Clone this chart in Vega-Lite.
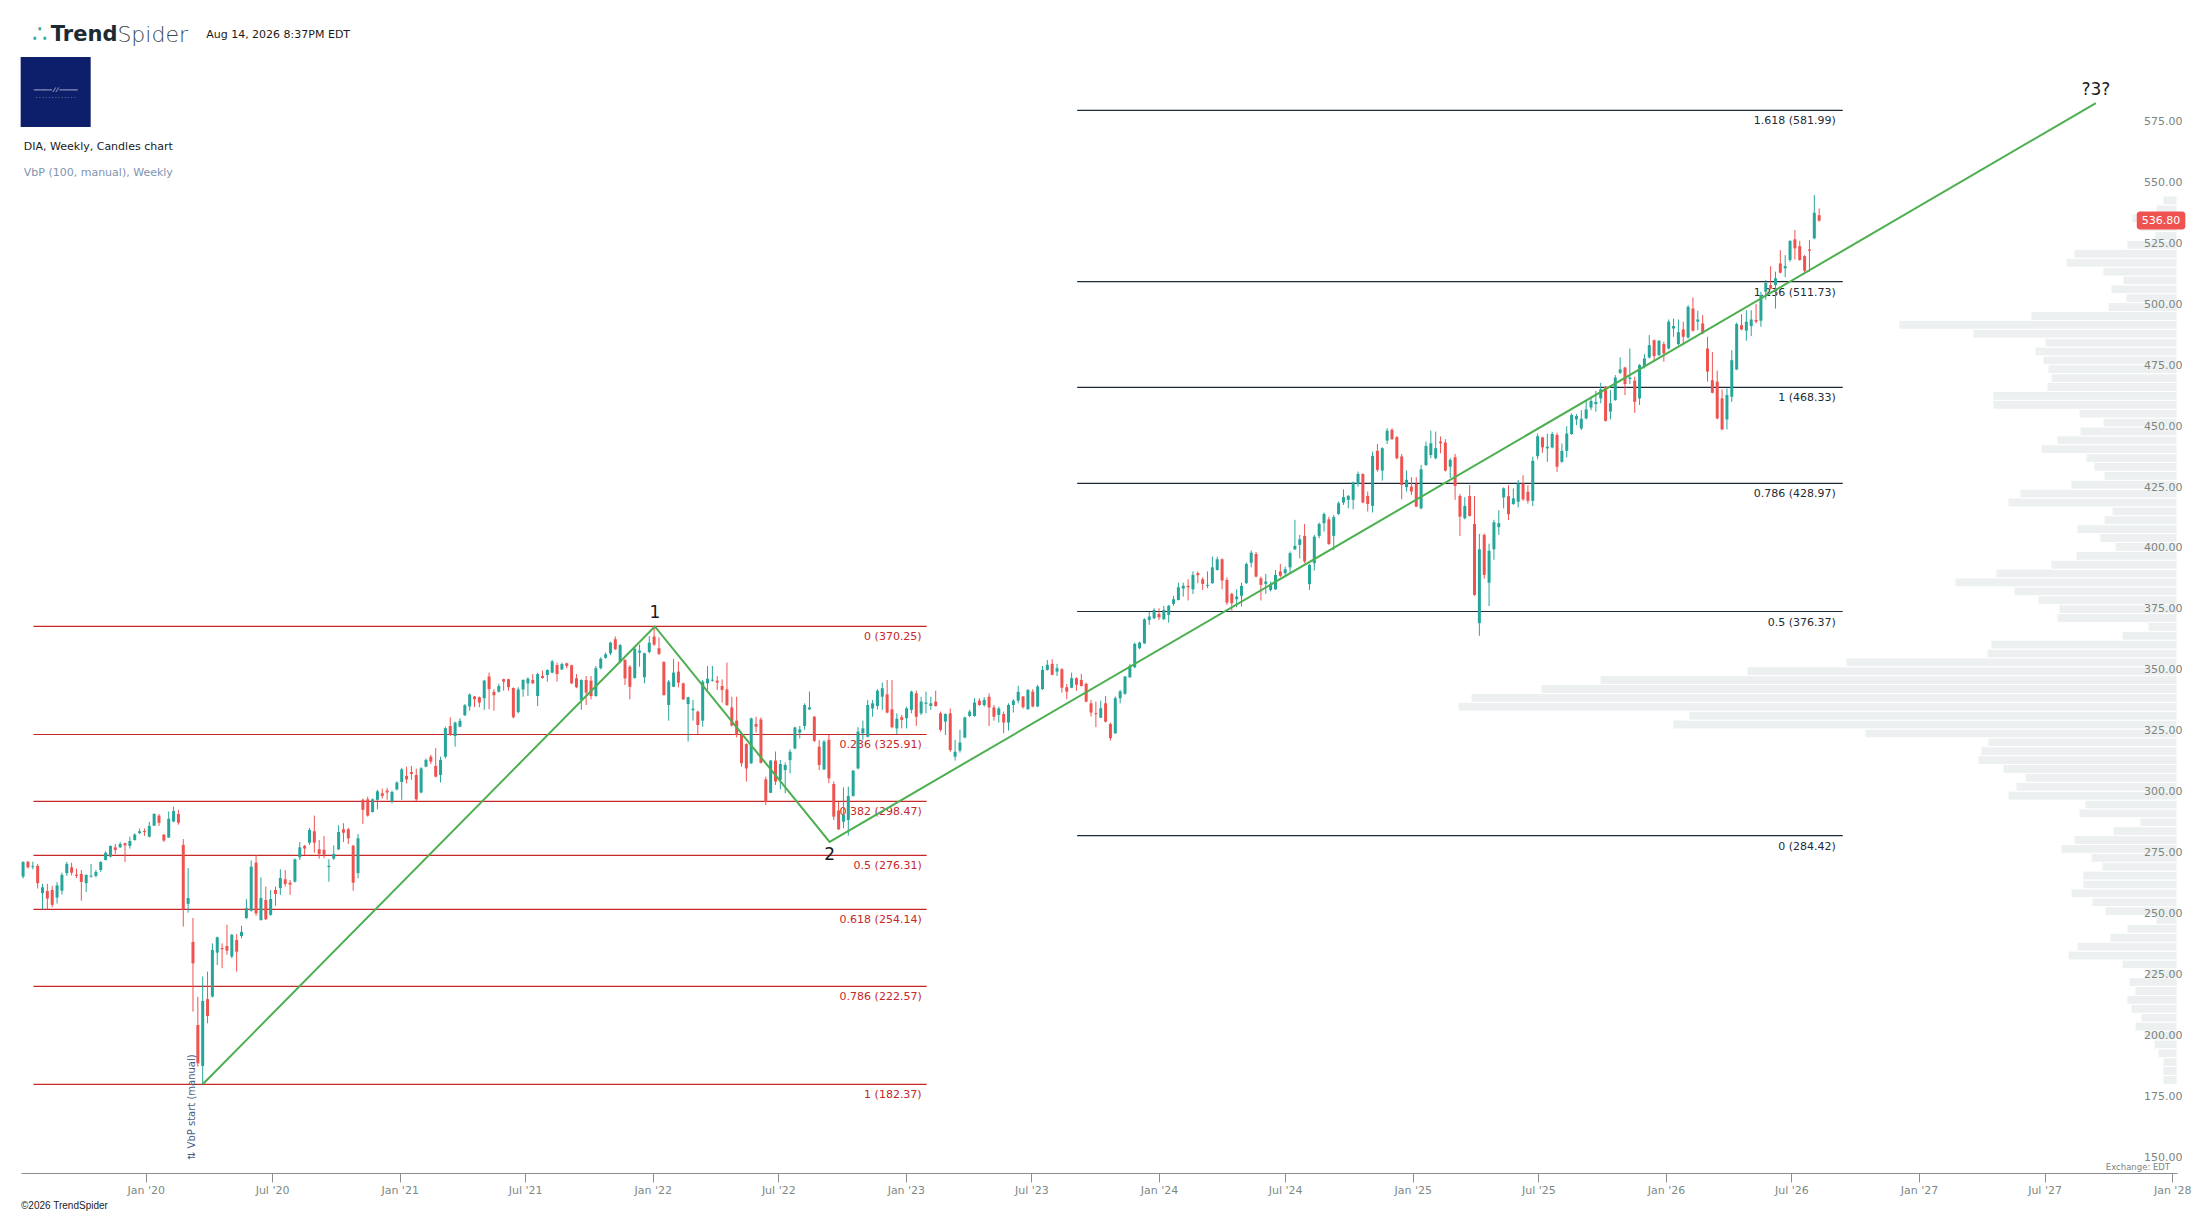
{
  "$schema": "https://vega.github.io/schema/vega-lite/v6.json",
  "width": 2156,
  "height": 1173,
  "autosize": {"type": "none"},
  "padding": {"left": 21, "top": 0, "right": 30, "bottom": 46},
  "background": "white",
  "title": {
    "text": "©2026 TrendSpider",
    "orient": "bottom",
    "anchor": "start",
    "frame": "group",
    "font": "Liberation Sans",
    "fontSize": 10,
    "fontWeight": "normal",
    "color": "#222222",
    "offset": 6
  },
  "config": {
    "view": {"stroke": null},
    "font": "DejaVu Sans",
    "scale": {"continuousPadding": 0},
    "axis": {"grid": false, "labelFont": "DejaVu Sans"},
    "axisX": {"labelFontSize": 11, "labelColor": "#7d8a84", "domainColor": "#8a8e91", "domainWidth": 1.2, "tickColor": "#8a8e91", "tickSize": 9, "labelPadding": 2, "labelFlush": false, "labelOverlap": false},
    "axisY": {"labelFontSize": 11, "labelColor": "#7b8581", "domain": false, "ticks": false, "labelAlign": "right", "labelPadding": 5, "labelOffset": -6}
  },
  "datasets": {
    "candles": [
      {"d":"2019-07-08","o":267.6,"h":273.9,"l":266.8,"c":273.6},
      {"d":"2019-07-15","o":273.7,"h":274.0,"l":270.9,"c":271.4},
      {"d":"2019-07-22","o":271.6,"h":273.7,"l":270.6,"c":272.0},
      {"d":"2019-07-29","o":272.0,"h":272.8,"l":262.7,"c":264.9},
      {"d":"2019-08-05","o":260.8,"h":264.6,"l":254.2,"c":263.2},
      {"d":"2019-08-12","o":261.7,"h":264.6,"l":254.2,"c":258.6},
      {"d":"2019-08-19","o":262.1,"h":263.8,"l":255.0,"c":256.0},
      {"d":"2019-08-26","o":259.0,"h":265.4,"l":256.5,"c":264.0},
      {"d":"2019-09-02","o":261.8,"h":269.2,"l":260.2,"c":268.3},
      {"d":"2019-09-09","o":269.0,"h":273.6,"l":267.9,"c":272.8},
      {"d":"2019-09-16","o":271.4,"h":273.3,"l":268.1,"c":269.2},
      {"d":"2019-09-23","o":268.4,"h":270.9,"l":267.0,"c":267.9},
      {"d":"2019-09-30","o":268.7,"h":270.3,"l":257.7,"c":265.4},
      {"d":"2019-10-07","o":264.9,"h":268.5,"l":261.3,"c":268.3},
      {"d":"2019-10-14","o":267.6,"h":272.8,"l":267.2,"c":268.0},
      {"d":"2019-10-21","o":267.9,"h":270.3,"l":267.3,"c":269.5},
      {"d":"2019-10-28","o":270.3,"h":273.9,"l":269.5,"c":273.6},
      {"d":"2019-11-04","o":274.4,"h":278.0,"l":274.2,"c":277.4},
      {"d":"2019-11-11","o":275.8,"h":280.4,"l":275.5,"c":280.2},
      {"d":"2019-11-18","o":279.6,"h":281.0,"l":276.9,"c":278.5},
      {"d":"2019-11-25","o":279.6,"h":281.8,"l":279.4,"c":281.0},
      {"d":"2019-12-02","o":281.3,"h":281.5,"l":273.6,"c":280.4},
      {"d":"2019-12-09","o":280.2,"h":284.0,"l":279.1,"c":282.2},
      {"d":"2019-12-16","o":282.6,"h":285.4,"l":282.4,"c":284.8},
      {"d":"2019-12-23","o":285.4,"h":287.3,"l":285.1,"c":286.2},
      {"d":"2019-12-30","o":286.3,"h":287.3,"l":284.3,"c":285.9},
      {"d":"2020-01-06","o":284.0,"h":290.0,"l":283.7,"c":288.4},
      {"d":"2020-01-13","o":288.5,"h":293.6,"l":288.4,"c":293.3},
      {"d":"2020-01-20","o":292.6,"h":293.3,"l":288.4,"c":289.7},
      {"d":"2020-01-27","o":284.8,"h":285.1,"l":281.8,"c":282.4},
      {"d":"2020-02-03","o":283.6,"h":294.3,"l":283.5,"c":291.3},
      {"d":"2020-02-10","o":290.2,"h":296.3,"l":289.9,"c":294.5},
      {"d":"2020-02-17","o":293.3,"h":295.0,"l":288.9,"c":289.7},
      {"d":"2020-02-24","o":280.6,"h":283.0,"l":247.1,"c":254.2},
      {"d":"2020-03-02","o":256.4,"h":271.1,"l":252.8,"c":258.8},
      {"d":"2020-03-09","o":240.8,"h":250.6,"l":212.2,"c":232.0},
      {"d":"2020-03-16","o":206.7,"h":218.3,"l":189.6,"c":191.0},
      {"d":"2020-03-23","o":189.9,"h":226.6,"l":182.4,"c":216.6},
      {"d":"2020-03-30","o":217.3,"h":228.6,"l":207.4,"c":210.4},
      {"d":"2020-04-06","o":218.4,"h":240.2,"l":218.0,"c":237.5},
      {"d":"2020-04-13","o":236.4,"h":243.0,"l":231.3,"c":242.7},
      {"d":"2020-04-20","o":238.3,"h":240.2,"l":230.0,"c":237.8},
      {"d":"2020-04-27","o":239.1,"h":247.8,"l":235.5,"c":237.2},
      {"d":"2020-05-04","o":234.8,"h":244.1,"l":234.1,"c":243.7},
      {"d":"2020-05-11","o":241.6,"h":244.0,"l":228.6,"c":236.8},
      {"d":"2020-05-18","o":243.2,"h":247.4,"l":242.3,"c":244.9},
      {"d":"2020-05-25","o":250.6,"h":258.3,"l":250.2,"c":254.7},
      {"d":"2020-06-01","o":253.6,"h":274.2,"l":253.2,"c":271.7},
      {"d":"2020-06-08","o":273.3,"h":276.5,"l":251.5,"c":252.5},
      {"d":"2020-06-15","o":249.8,"h":267.3,"l":249.5,"c":258.8},
      {"d":"2020-06-22","o":258.0,"h":263.5,"l":249.8,"c":250.1},
      {"d":"2020-06-29","o":251.9,"h":262.1,"l":251.5,"c":258.4},
      {"d":"2020-07-06","o":262.1,"h":263.5,"l":255.6,"c":260.5},
      {"d":"2020-07-13","o":262.9,"h":270.6,"l":260.1,"c":267.0},
      {"d":"2020-07-20","o":266.5,"h":270.3,"l":263.5,"c":264.6},
      {"d":"2020-07-27","o":265.1,"h":266.2,"l":260.1,"c":264.3},
      {"d":"2020-08-03","o":265.5,"h":275.0,"l":265.2,"c":274.7},
      {"d":"2020-08-10","o":275.5,"h":281.8,"l":274.4,"c":279.6},
      {"d":"2020-08-17","o":280.2,"h":280.6,"l":276.5,"c":279.1},
      {"d":"2020-08-24","o":281.5,"h":287.6,"l":280.6,"c":286.7},
      {"d":"2020-08-31","o":286.2,"h":292.6,"l":277.4,"c":281.5},
      {"d":"2020-09-07","o":278.8,"h":282.6,"l":275.0,"c":276.9},
      {"d":"2020-09-14","o":278.6,"h":284.3,"l":275.2,"c":276.6},
      {"d":"2020-09-21","o":271.5,"h":274.7,"l":265.5,"c":272.0},
      {"d":"2020-09-28","o":275.0,"h":280.4,"l":274.4,"c":276.9},
      {"d":"2020-10-05","o":278.8,"h":288.7,"l":278.5,"c":285.9},
      {"d":"2020-10-12","o":287.0,"h":289.5,"l":281.8,"c":285.6},
      {"d":"2020-10-19","o":287.0,"h":287.6,"l":281.0,"c":283.3},
      {"d":"2020-10-26","o":280.3,"h":280.6,"l":261.8,"c":265.1},
      {"d":"2020-11-02","o":269.0,"h":285.1,"l":266.9,"c":283.3},
      {"d":"2020-11-09","o":299.1,"h":299.6,"l":289.2,"c":295.0},
      {"d":"2020-11-16","o":299.3,"h":300.4,"l":292.2,"c":292.6},
      {"d":"2020-11-23","o":294.1,"h":299.7,"l":293.9,"c":299.3},
      {"d":"2020-11-30","o":299.1,"h":303.2,"l":295.2,"c":302.6},
      {"d":"2020-12-07","o":301.8,"h":303.7,"l":299.6,"c":300.7},
      {"d":"2020-12-14","o":302.9,"h":304.0,"l":299.1,"c":302.1},
      {"d":"2020-12-21","o":298.5,"h":302.9,"l":297.7,"c":302.3},
      {"d":"2020-12-28","o":303.4,"h":306.7,"l":302.9,"c":306.2},
      {"d":"2021-01-04","o":306.4,"h":312.2,"l":299.1,"c":311.6},
      {"d":"2021-01-11","o":308.9,"h":312.7,"l":305.9,"c":307.5},
      {"d":"2021-01-18","o":310.5,"h":313.0,"l":307.3,"c":309.7},
      {"d":"2021-01-25","o":309.3,"h":311.9,"l":298.5,"c":299.3},
      {"d":"2021-02-01","o":302.1,"h":312.5,"l":301.8,"c":312.0},
      {"d":"2021-02-08","o":312.7,"h":316.0,"l":312.5,"c":315.5},
      {"d":"2021-02-15","o":316.8,"h":317.5,"l":313.8,"c":314.8},
      {"d":"2021-02-22","o":313.0,"h":320.3,"l":308.3,"c":308.6},
      {"d":"2021-03-01","o":309.3,"h":316.8,"l":306.2,"c":315.5},
      {"d":"2021-03-08","o":316.8,"h":329.1,"l":316.1,"c":328.5},
      {"d":"2021-03-15","o":329.4,"h":333.0,"l":325.3,"c":325.7},
      {"d":"2021-03-22","o":325.3,"h":331.2,"l":320.9,"c":330.8},
      {"d":"2021-03-29","o":329.1,"h":332.6,"l":328.9,"c":331.5},
      {"d":"2021-04-05","o":333.8,"h":338.4,"l":333.5,"c":337.9},
      {"d":"2021-04-12","o":337.4,"h":342.8,"l":335.7,"c":342.3},
      {"d":"2021-04-19","o":341.5,"h":341.7,"l":337.1,"c":340.4},
      {"d":"2021-04-26","o":341.2,"h":341.5,"l":337.1,"c":339.0},
      {"d":"2021-05-03","o":340.8,"h":348.3,"l":336.0,"c":348.0},
      {"d":"2021-05-10","o":349.7,"h":351.3,"l":336.3,"c":344.5},
      {"d":"2021-05-17","o":343.4,"h":344.5,"l":335.7,"c":342.0},
      {"d":"2021-05-24","o":343.5,"h":346.7,"l":343.1,"c":345.8},
      {"d":"2021-05-31","o":348.6,"h":348.8,"l":343.9,"c":347.6},
      {"d":"2021-06-07","o":348.6,"h":348.8,"l":343.9,"c":345.3},
      {"d":"2021-06-14","o":345.0,"h":345.2,"l":332.5,"c":333.0},
      {"d":"2021-06-21","o":335.1,"h":345.3,"l":334.6,"c":344.4},
      {"d":"2021-06-28","o":344.4,"h":348.5,"l":341.4,"c":348.3},
      {"d":"2021-07-05","o":346.9,"h":349.4,"l":341.7,"c":348.8},
      {"d":"2021-07-12","o":348.3,"h":350.7,"l":346.6,"c":346.9},
      {"d":"2021-07-19","o":341.7,"h":351.3,"l":337.6,"c":350.7},
      {"d":"2021-07-26","o":349.9,"h":352.1,"l":348.8,"c":349.1},
      {"d":"2021-08-02","o":350.3,"h":352.6,"l":347.6,"c":352.4},
      {"d":"2021-08-09","o":351.3,"h":356.5,"l":351.0,"c":355.9},
      {"d":"2021-08-16","o":354.4,"h":355.4,"l":347.6,"c":350.7},
      {"d":"2021-08-23","o":352.6,"h":355.4,"l":352.4,"c":354.8},
      {"d":"2021-08-30","o":355.1,"h":355.4,"l":353.1,"c":354.0},
      {"d":"2021-09-06","o":354.3,"h":354.5,"l":346.7,"c":346.9},
      {"d":"2021-09-13","o":349.0,"h":350.7,"l":344.9,"c":345.3},
      {"d":"2021-09-20","o":340.1,"h":348.5,"l":336.0,"c":348.3},
      {"d":"2021-09-27","o":348.3,"h":349.9,"l":338.0,"c":343.1},
      {"d":"2021-10-04","o":348.0,"h":349.9,"l":340.3,"c":341.7},
      {"d":"2021-10-11","o":341.7,"h":354.0,"l":341.4,"c":353.1},
      {"d":"2021-10-18","o":353.1,"h":357.6,"l":352.6,"c":357.0},
      {"d":"2021-10-25","o":357.4,"h":359.5,"l":357.0,"c":358.8},
      {"d":"2021-11-01","o":359.2,"h":364.0,"l":358.4,"c":363.6},
      {"d":"2021-11-08","o":365.0,"h":366.1,"l":360.6,"c":360.9},
      {"d":"2021-11-15","o":355.7,"h":363.0,"l":355.1,"c":362.6},
      {"d":"2021-11-22","o":356.5,"h":356.8,"l":346.2,"c":348.9},
      {"d":"2021-11-29","o":353.7,"h":354.4,"l":340.3,"c":345.5},
      {"d":"2021-12-06","o":349.1,"h":361.7,"l":348.8,"c":361.1},
      {"d":"2021-12-13","o":359.5,"h":362.8,"l":353.7,"c":360.3},
      {"d":"2021-12-20","o":349.4,"h":359.5,"l":346.9,"c":359.2},
      {"d":"2021-12-27","o":359.8,"h":366.3,"l":359.2,"c":363.6},
      {"d":"2022-01-03","o":366.1,"h":370.25,"l":362.2,"c":362.8},
      {"d":"2022-01-10","o":361.3,"h":365.8,"l":358.5,"c":359.0},
      {"d":"2022-01-17","o":355.7,"h":355.9,"l":341.8,"c":342.1},
      {"d":"2022-01-24","o":338.0,"h":348.3,"l":331.6,"c":347.6},
      {"d":"2022-01-31","o":345.5,"h":356.8,"l":345.3,"c":351.3},
      {"d":"2022-02-07","o":351.7,"h":355.8,"l":345.3,"c":347.2},
      {"d":"2022-02-14","o":346.9,"h":347.2,"l":340.1,"c":340.3},
      {"d":"2022-02-21","o":338.4,"h":341.4,"l":323.0,"c":341.2},
      {"d":"2022-02-28","o":335.9,"h":340.1,"l":331.6,"c":336.5},
      {"d":"2022-03-07","o":335.3,"h":335.7,"l":326.1,"c":329.8},
      {"d":"2022-03-14","o":331.6,"h":348.3,"l":329.1,"c":347.6},
      {"d":"2022-03-21","o":346.9,"h":354.0,"l":344.2,"c":348.8},
      {"d":"2022-03-28","o":348.0,"h":354.0,"l":347.6,"c":348.4},
      {"d":"2022-04-04","o":348.0,"h":349.9,"l":344.2,"c":347.2},
      {"d":"2022-04-11","o":345.8,"h":348.5,"l":339.0,"c":344.2},
      {"d":"2022-04-18","o":344.4,"h":355.4,"l":337.6,"c":338.0},
      {"d":"2022-04-25","o":337.0,"h":341.4,"l":329.2,"c":329.6},
      {"d":"2022-05-02","o":331.6,"h":341.4,"l":324.7,"c":325.7},
      {"d":"2022-05-09","o":325.7,"h":327.1,"l":312.7,"c":314.1},
      {"d":"2022-05-16","o":322.0,"h":322.3,"l":306.6,"c":312.0},
      {"d":"2022-05-23","o":314.1,"h":332.8,"l":313.8,"c":332.5},
      {"d":"2022-05-30","o":330.2,"h":333.2,"l":326.7,"c":329.1},
      {"d":"2022-06-06","o":332.1,"h":332.9,"l":314.0,"c":314.3},
      {"d":"2022-06-13","o":307.5,"h":308.6,"l":297.0,"c":298.3},
      {"d":"2022-06-20","o":302.0,"h":315.4,"l":301.8,"c":315.2},
      {"d":"2022-06-27","o":315.2,"h":318.9,"l":305.2,"c":306.6},
      {"d":"2022-07-04","o":307.3,"h":315.4,"l":303.4,"c":313.8},
      {"d":"2022-07-11","o":311.3,"h":314.4,"l":301.8,"c":313.4},
      {"d":"2022-07-18","o":315.4,"h":319.8,"l":310.0,"c":318.8},
      {"d":"2022-07-25","o":320.2,"h":329.1,"l":319.8,"c":328.8},
      {"d":"2022-08-01","o":326.7,"h":329.4,"l":324.3,"c":328.0},
      {"d":"2022-08-08","o":329.4,"h":338.7,"l":327.8,"c":338.0},
      {"d":"2022-08-15","o":336.2,"h":343.5,"l":336.0,"c":337.0},
      {"d":"2022-08-22","o":333.2,"h":333.5,"l":322.8,"c":323.3},
      {"d":"2022-08-29","o":320.9,"h":323.6,"l":311.3,"c":313.4},
      {"d":"2022-09-05","o":311.6,"h":323.6,"l":311.3,"c":323.0},
      {"d":"2022-09-12","o":323.7,"h":325.7,"l":305.9,"c":307.9},
      {"d":"2022-09-19","o":305.6,"h":306.6,"l":290.8,"c":292.2},
      {"d":"2022-09-26","o":294.7,"h":298.3,"l":286.7,"c":287.0},
      {"d":"2022-10-03","o":290.1,"h":304.2,"l":287.4,"c":292.9},
      {"d":"2022-10-10","o":290.8,"h":304.5,"l":284.4,"c":300.7},
      {"d":"2022-10-17","o":300.7,"h":311.3,"l":300.4,"c":311.1},
      {"d":"2022-10-24","o":312.0,"h":328.9,"l":311.6,"c":327.1},
      {"d":"2022-10-31","o":326.4,"h":331.6,"l":323.7,"c":328.4},
      {"d":"2022-11-07","o":325.0,"h":340.1,"l":324.7,"c":338.0},
      {"d":"2022-11-14","o":336.6,"h":340.1,"l":333.2,"c":338.7},
      {"d":"2022-11-21","o":337.6,"h":344.5,"l":336.2,"c":343.9},
      {"d":"2022-11-28","o":341.4,"h":347.2,"l":336.0,"c":344.9},
      {"d":"2022-12-05","o":342.4,"h":348.3,"l":334.6,"c":334.9},
      {"d":"2022-12-12","o":336.2,"h":348.3,"l":328.4,"c":328.9},
      {"d":"2022-12-19","o":328.4,"h":334.6,"l":326.1,"c":332.4},
      {"d":"2022-12-26","o":333.0,"h":333.9,"l":328.4,"c":331.9},
      {"d":"2023-01-02","o":332.6,"h":337.3,"l":328.4,"c":336.6},
      {"d":"2023-01-09","o":336.0,"h":343.9,"l":334.6,"c":343.5},
      {"d":"2023-01-16","o":342.8,"h":343.9,"l":329.4,"c":333.2},
      {"d":"2023-01-23","o":334.6,"h":341.4,"l":333.9,"c":339.4},
      {"d":"2023-01-30","o":338.5,"h":343.5,"l":334.6,"c":339.0},
      {"d":"2023-02-06","o":337.6,"h":341.4,"l":336.0,"c":338.7},
      {"d":"2023-02-13","o":339.4,"h":343.9,"l":337.3,"c":337.6},
      {"d":"2023-02-20","o":334.6,"h":335.3,"l":327.1,"c":327.8},
      {"d":"2023-02-27","o":331.2,"h":334.6,"l":325.7,"c":334.3},
      {"d":"2023-03-06","o":334.6,"h":336.6,"l":318.8,"c":319.5},
      {"d":"2023-03-13","o":316.8,"h":323.7,"l":315.2,"c":318.8},
      {"d":"2023-03-20","o":319.3,"h":327.8,"l":318.5,"c":322.6},
      {"d":"2023-03-27","o":324.7,"h":333.2,"l":324.3,"c":332.9},
      {"d":"2023-04-03","o":333.5,"h":336.0,"l":333.0,"c":335.3},
      {"d":"2023-04-10","o":333.5,"h":340.8,"l":333.2,"c":339.0},
      {"d":"2023-04-17","o":339.8,"h":340.8,"l":337.6,"c":338.0},
      {"d":"2023-04-24","o":338.0,"h":341.2,"l":337.3,"c":340.1},
      {"d":"2023-05-01","o":341.4,"h":342.8,"l":329.4,"c":337.0},
      {"d":"2023-05-08","o":337.0,"h":338.0,"l":331.6,"c":333.2},
      {"d":"2023-05-15","o":333.9,"h":337.3,"l":330.8,"c":336.6},
      {"d":"2023-05-22","o":334.3,"h":335.3,"l":326.4,"c":330.8},
      {"d":"2023-05-29","o":330.8,"h":338.7,"l":327.5,"c":338.0},
      {"d":"2023-06-05","o":338.0,"h":340.4,"l":334.9,"c":339.8},
      {"d":"2023-06-12","o":339.8,"h":345.9,"l":338.7,"c":343.4},
      {"d":"2023-06-19","o":341.5,"h":341.7,"l":336.5,"c":337.1},
      {"d":"2023-06-26","o":336.3,"h":344.5,"l":336.0,"c":344.2},
      {"d":"2023-07-03","o":343.5,"h":344.5,"l":337.1,"c":337.4},
      {"d":"2023-07-10","o":337.4,"h":346.3,"l":337.1,"c":345.6},
      {"d":"2023-07-17","o":344.5,"h":354.0,"l":344.2,"c":352.4},
      {"d":"2023-07-24","o":352.4,"h":356.5,"l":352.1,"c":354.5},
      {"d":"2023-07-31","o":354.9,"h":356.8,"l":350.2,"c":350.4},
      {"d":"2023-08-07","o":351.7,"h":354.9,"l":349.9,"c":353.1},
      {"d":"2023-08-14","o":352.7,"h":353.1,"l":343.1,"c":345.1},
      {"d":"2023-08-21","o":345.3,"h":346.7,"l":340.4,"c":343.5},
      {"d":"2023-08-28","o":345.1,"h":351.3,"l":344.9,"c":349.0},
      {"d":"2023-09-04","o":349.0,"h":349.4,"l":343.9,"c":346.3},
      {"d":"2023-09-11","o":348.3,"h":350.8,"l":345.6,"c":345.8},
      {"d":"2023-09-18","o":346.7,"h":347.2,"l":339.1,"c":339.4},
      {"d":"2023-09-25","o":338.7,"h":340.1,"l":333.3,"c":334.9},
      {"d":"2023-10-02","o":334.6,"h":339.4,"l":328.9,"c":334.2},
      {"d":"2023-10-09","o":332.8,"h":339.8,"l":332.6,"c":336.7},
      {"d":"2023-10-16","o":338.7,"h":341.7,"l":330.8,"c":331.2},
      {"d":"2023-10-23","o":330.2,"h":330.8,"l":323.4,"c":324.4},
      {"d":"2023-10-30","o":326.4,"h":341.5,"l":326.2,"c":340.8},
      {"d":"2023-11-06","o":340.8,"h":344.2,"l":338.7,"c":343.6},
      {"d":"2023-11-13","o":342.6,"h":349.9,"l":342.2,"c":349.7},
      {"d":"2023-11-20","o":349.4,"h":354.9,"l":349.1,"c":354.0},
      {"d":"2023-11-27","o":353.5,"h":363.6,"l":353.1,"c":363.1},
      {"d":"2023-12-04","o":361.3,"h":364.0,"l":360.9,"c":363.6},
      {"d":"2023-12-11","o":363.3,"h":373.6,"l":363.1,"c":373.2},
      {"d":"2023-12-18","o":372.9,"h":376.3,"l":370.9,"c":374.3},
      {"d":"2023-12-25","o":373.6,"h":377.7,"l":373.2,"c":377.0},
      {"d":"2024-01-01","o":375.4,"h":377.7,"l":372.9,"c":374.0},
      {"d":"2024-01-08","o":373.2,"h":378.7,"l":372.9,"c":377.0},
      {"d":"2024-01-15","o":375.0,"h":379.1,"l":371.8,"c":378.7},
      {"d":"2024-01-22","o":379.5,"h":382.8,"l":378.7,"c":381.4},
      {"d":"2024-01-29","o":381.1,"h":388.2,"l":380.9,"c":386.3},
      {"d":"2024-02-05","o":385.8,"h":388.2,"l":382.5,"c":386.9},
      {"d":"2024-02-12","o":386.9,"h":389.6,"l":380.9,"c":386.3},
      {"d":"2024-02-19","o":385.5,"h":392.8,"l":383.6,"c":391.4},
      {"d":"2024-02-26","o":392.1,"h":392.8,"l":388.0,"c":391.3},
      {"d":"2024-03-04","o":389.6,"h":390.4,"l":385.2,"c":387.7},
      {"d":"2024-03-11","o":386.9,"h":392.8,"l":385.9,"c":387.3},
      {"d":"2024-03-18","o":388.0,"h":398.9,"l":387.7,"c":394.5},
      {"d":"2024-03-25","o":393.4,"h":398.9,"l":393.2,"c":397.8},
      {"d":"2024-04-01","o":397.8,"h":398.2,"l":385.5,"c":389.1},
      {"d":"2024-04-08","o":389.3,"h":390.4,"l":379.1,"c":380.0},
      {"d":"2024-04-15","o":383.6,"h":384.1,"l":376.3,"c":379.8},
      {"d":"2024-04-22","o":381.4,"h":385.5,"l":378.1,"c":382.5},
      {"d":"2024-04-29","o":382.8,"h":388.2,"l":378.4,"c":386.9},
      {"d":"2024-05-06","o":388.0,"h":396.4,"l":387.7,"c":395.9},
      {"d":"2024-05-13","o":396.4,"h":401.4,"l":394.5,"c":400.5},
      {"d":"2024-05-20","o":400.0,"h":400.8,"l":390.4,"c":390.7},
      {"d":"2024-05-27","o":390.0,"h":390.7,"l":380.9,"c":387.3},
      {"d":"2024-06-03","o":387.7,"h":391.8,"l":383.6,"c":388.7},
      {"d":"2024-06-10","o":385.2,"h":388.7,"l":384.6,"c":387.7},
      {"d":"2024-06-17","o":385.5,"h":393.4,"l":385.2,"c":391.4},
      {"d":"2024-06-24","o":392.8,"h":395.9,"l":390.4,"c":391.0},
      {"d":"2024-07-01","o":392.1,"h":394.8,"l":391.4,"c":393.7},
      {"d":"2024-07-08","o":394.5,"h":401.0,"l":392.3,"c":400.3},
      {"d":"2024-07-15","o":401.9,"h":414.0,"l":401.6,"c":403.3},
      {"d":"2024-07-22","o":403.7,"h":407.8,"l":398.2,"c":406.0},
      {"d":"2024-07-29","o":407.4,"h":412.3,"l":396.2,"c":396.9},
      {"d":"2024-08-05","o":387.6,"h":395.9,"l":385.2,"c":395.5},
      {"d":"2024-08-12","o":396.2,"h":407.8,"l":393.2,"c":407.1},
      {"d":"2024-08-19","o":407.4,"h":412.9,"l":406.4,"c":412.3},
      {"d":"2024-08-26","o":412.6,"h":417.0,"l":409.2,"c":416.4},
      {"d":"2024-09-02","o":414.2,"h":415.3,"l":403.7,"c":404.1},
      {"d":"2024-09-09","o":407.4,"h":416.0,"l":401.6,"c":415.1},
      {"d":"2024-09-16","o":416.4,"h":421.5,"l":416.0,"c":420.8},
      {"d":"2024-09-23","o":421.1,"h":426.5,"l":420.1,"c":423.3},
      {"d":"2024-09-30","o":422.2,"h":424.2,"l":418.7,"c":423.8},
      {"d":"2024-10-07","o":422.2,"h":429.7,"l":418.3,"c":429.3},
      {"d":"2024-10-14","o":428.7,"h":433.8,"l":427.6,"c":432.8},
      {"d":"2024-10-21","o":432.8,"h":433.1,"l":420.8,"c":421.1},
      {"d":"2024-10-28","o":423.8,"h":425.6,"l":417.4,"c":420.5},
      {"d":"2024-11-04","o":419.7,"h":442.0,"l":417.0,"c":440.2},
      {"d":"2024-11-11","o":442.3,"h":445.1,"l":433.8,"c":434.5},
      {"d":"2024-11-18","o":434.2,"h":443.8,"l":430.1,"c":443.4},
      {"d":"2024-11-25","o":446.5,"h":451.6,"l":445.1,"c":450.6},
      {"d":"2024-12-02","o":450.9,"h":451.6,"l":446.8,"c":447.1},
      {"d":"2024-12-09","o":447.9,"h":448.4,"l":438.8,"c":439.3},
      {"d":"2024-12-16","o":440.0,"h":441.0,"l":422.4,"c":428.3},
      {"d":"2024-12-23","o":427.4,"h":434.2,"l":425.6,"c":430.4},
      {"d":"2024-12-30","o":427.6,"h":431.5,"l":424.2,"c":425.6},
      {"d":"2025-01-06","o":428.7,"h":431.5,"l":419.2,"c":419.4},
      {"d":"2025-01-13","o":418.7,"h":436.5,"l":418.3,"c":434.7},
      {"d":"2025-01-20","o":436.5,"h":446.1,"l":436.1,"c":444.3},
      {"d":"2025-01-27","o":440.6,"h":450.6,"l":439.3,"c":445.4},
      {"d":"2025-02-03","o":439.3,"h":450.2,"l":438.8,"c":443.4},
      {"d":"2025-02-10","o":446.1,"h":448.2,"l":441.3,"c":445.4},
      {"d":"2025-02-17","o":445.7,"h":447.1,"l":433.8,"c":434.2},
      {"d":"2025-02-24","o":435.8,"h":439.3,"l":431.1,"c":438.6},
      {"d":"2025-03-03","o":439.7,"h":441.0,"l":422.2,"c":427.9},
      {"d":"2025-03-10","o":423.8,"h":424.6,"l":407.4,"c":415.3},
      {"d":"2025-03-17","o":414.6,"h":423.3,"l":414.2,"c":419.7},
      {"d":"2025-03-24","o":423.8,"h":428.3,"l":415.3,"c":415.6},
      {"d":"2025-03-31","o":412.3,"h":423.8,"l":382.8,"c":383.2},
      {"d":"2025-04-07","o":371.6,"h":408.2,"l":366.4,"c":401.9},
      {"d":"2025-04-14","o":407.8,"h":408.3,"l":389.8,"c":391.4},
      {"d":"2025-04-21","o":388.2,"h":404.2,"l":378.6,"c":401.3},
      {"d":"2025-04-28","o":401.9,"h":414.0,"l":397.6,"c":413.0},
      {"d":"2025-05-05","o":411.0,"h":417.9,"l":407.8,"c":412.6},
      {"d":"2025-05-12","o":423.2,"h":427.3,"l":418.7,"c":426.9},
      {"d":"2025-05-19","o":423.7,"h":428.2,"l":413.9,"c":416.3},
      {"d":"2025-05-26","o":420.5,"h":426.9,"l":420.1,"c":422.8},
      {"d":"2025-06-02","o":421.4,"h":430.3,"l":419.1,"c":428.9},
      {"d":"2025-06-09","o":428.9,"h":432.3,"l":421.8,"c":422.4},
      {"d":"2025-06-16","o":425.5,"h":428.2,"l":420.7,"c":421.8},
      {"d":"2025-06-23","o":421.8,"h":439.9,"l":419.6,"c":438.2},
      {"d":"2025-06-30","o":440.1,"h":449.4,"l":438.8,"c":448.3},
      {"d":"2025-07-07","o":447.8,"h":448.1,"l":441.5,"c":443.7},
      {"d":"2025-07-14","o":443.3,"h":449.4,"l":437.8,"c":444.0},
      {"d":"2025-07-21","o":443.7,"h":450.1,"l":443.3,"c":449.2},
      {"d":"2025-07-28","o":448.8,"h":449.7,"l":433.7,"c":435.8},
      {"d":"2025-08-04","o":437.8,"h":445.3,"l":437.4,"c":442.3},
      {"d":"2025-08-11","o":442.3,"h":452.4,"l":439.6,"c":449.4},
      {"d":"2025-08-18","o":449.2,"h":457.7,"l":448.8,"c":457.0},
      {"d":"2025-08-25","o":455.2,"h":457.4,"l":452.9,"c":456.6},
      {"d":"2025-09-01","o":451.5,"h":459.0,"l":450.8,"c":455.5},
      {"d":"2025-09-08","o":455.6,"h":462.8,"l":455.2,"c":459.3},
      {"d":"2025-09-15","o":460.1,"h":464.5,"l":459.0,"c":462.8},
      {"d":"2025-09-22","o":461.5,"h":466.9,"l":458.4,"c":462.4},
      {"d":"2025-09-29","o":463.8,"h":470.2,"l":461.8,"c":467.5},
      {"d":"2025-10-06","o":468.6,"h":468.9,"l":454.3,"c":454.6},
      {"d":"2025-10-13","o":458.4,"h":467.2,"l":455.2,"c":461.8},
      {"d":"2025-10-20","o":463.1,"h":473.4,"l":462.9,"c":472.4},
      {"d":"2025-10-27","o":474.3,"h":480.6,"l":473.8,"c":475.7},
      {"d":"2025-11-03","o":476.5,"h":476.8,"l":465.2,"c":469.7},
      {"d":"2025-11-10","o":471.8,"h":484.3,"l":469.7,"c":472.4},
      {"d":"2025-11-17","o":471.1,"h":472.7,"l":457.9,"c":462.4},
      {"d":"2025-11-24","o":463.8,"h":477.9,"l":461.1,"c":477.5},
      {"d":"2025-12-01","o":477.1,"h":482.0,"l":476.1,"c":480.2},
      {"d":"2025-12-08","o":480.6,"h":489.8,"l":480.2,"c":485.7},
      {"d":"2025-12-15","o":487.7,"h":488.0,"l":478.9,"c":481.2},
      {"d":"2025-12-22","o":481.6,"h":487.7,"l":481.2,"c":487.5},
      {"d":"2025-12-29","o":486.1,"h":487.1,"l":478.9,"c":482.3},
      {"d":"2026-01-05","o":484.3,"h":496.2,"l":483.9,"c":495.3},
      {"d":"2026-01-12","o":492.5,"h":496.6,"l":489.1,"c":493.5},
      {"d":"2026-01-19","o":486.1,"h":496.2,"l":485.7,"c":491.0},
      {"d":"2026-01-26","o":492.1,"h":495.3,"l":485.7,"c":489.1},
      {"d":"2026-02-02","o":488.8,"h":502.1,"l":488.4,"c":501.4},
      {"d":"2026-02-09","o":500.7,"h":505.3,"l":491.2,"c":491.6},
      {"d":"2026-02-16","o":495.3,"h":499.8,"l":491.8,"c":496.2},
      {"d":"2026-02-23","o":494.6,"h":498.0,"l":490.2,"c":490.5},
      {"d":"2026-03-02","o":484.3,"h":489.1,"l":470.7,"c":474.8},
      {"d":"2026-03-09","o":471.3,"h":482.9,"l":465.9,"c":466.1},
      {"d":"2026-03-16","o":470.7,"h":475.2,"l":455.2,"c":455.6},
      {"d":"2026-03-23","o":463.8,"h":467.5,"l":450.8,"c":451.1},
      {"d":"2026-03-30","o":455.2,"h":467.9,"l":451.1,"c":465.2},
      {"d":"2026-04-06","o":464.5,"h":483.6,"l":462.4,"c":479.5},
      {"d":"2026-04-13","o":475.7,"h":494.9,"l":475.4,"c":494.3},
      {"d":"2026-04-20","o":493.9,"h":498.4,"l":491.8,"c":492.1},
      {"d":"2026-04-27","o":491.6,"h":500.0,"l":487.5,"c":495.3},
      {"d":"2026-05-04","o":493.5,"h":500.0,"l":489.4,"c":496.2},
      {"d":"2026-05-11","o":496.0,"h":502.5,"l":494.6,"c":495.3},
      {"d":"2026-05-18","o":495.7,"h":507.6,"l":493.2,"c":506.2},
      {"d":"2026-05-25","o":507.6,"h":512.4,"l":504.4,"c":511.3},
      {"d":"2026-06-01","o":510.3,"h":518.1,"l":508.5,"c":508.9},
      {"d":"2026-06-08","o":510.3,"h":515.8,"l":500.7,"c":513.1},
      {"d":"2026-06-15","o":519.2,"h":524.7,"l":515.1,"c":515.4},
      {"d":"2026-06-22","o":517.2,"h":522.6,"l":513.5,"c":518.1},
      {"d":"2026-06-29","o":520.6,"h":528.8,"l":519.9,"c":528.4},
      {"d":"2026-07-06","o":529.1,"h":532.9,"l":520.8,"c":525.4},
      {"d":"2026-07-13","o":526.3,"h":528.5,"l":520.3,"c":520.6},
      {"d":"2026-07-20","o":522.2,"h":522.6,"l":515.4,"c":516.2},
      {"d":"2026-07-27","o":524.9,"h":528.8,"l":515.8,"c":524.4},
      {"d":"2026-08-03","o":529.5,"h":547.2,"l":529.1,"c":540.0},
      {"d":"2026-08-10","o":539.0,"h":541.8,"l":536.3,"c":536.8}
    ],
    "vbp": [
      {"lo":182.37,"hi":186.02,"v":14},{"lo":186.02,"hi":189.66,"v":14},{"lo":189.66,"hi":193.31,"v":14},{"lo":193.31,"hi":196.95,"v":19},
      {"lo":196.95,"hi":200.60,"v":23},{"lo":200.60,"hi":204.24,"v":33},{"lo":204.24,"hi":207.89,"v":42},{"lo":207.89,"hi":211.53,"v":36},
      {"lo":211.53,"hi":215.18,"v":46},{"lo":215.18,"hi":218.82,"v":50},{"lo":218.82,"hi":222.47,"v":42},{"lo":222.47,"hi":226.11,"v":48},
      {"lo":226.11,"hi":229.76,"v":30},{"lo":229.76,"hi":233.40,"v":55},{"lo":233.40,"hi":237.05,"v":109},{"lo":237.05,"hi":240.69,"v":100},
      {"lo":240.69,"hi":244.34,"v":67},{"lo":244.34,"hi":247.98,"v":50},{"lo":247.98,"hi":251.63,"v":21},{"lo":251.63,"hi":255.27,"v":72},
      {"lo":255.27,"hi":258.92,"v":85},{"lo":258.92,"hi":262.56,"v":106},{"lo":262.56,"hi":266.21,"v":94},{"lo":266.21,"hi":269.85,"v":94},
      {"lo":269.85,"hi":273.50,"v":75},{"lo":273.50,"hi":277.14,"v":86},{"lo":277.14,"hi":280.79,"v":116},{"lo":280.79,"hi":284.43,"v":103},
      {"lo":284.43,"hi":288.08,"v":64},{"lo":288.08,"hi":291.72,"v":37},{"lo":291.72,"hi":295.37,"v":98},{"lo":295.37,"hi":299.01,"v":92},
      {"lo":299.01,"hi":302.66,"v":169},{"lo":302.66,"hi":306.30,"v":161},{"lo":306.30,"hi":309.95,"v":152},{"lo":309.95,"hi":313.59,"v":174},
      {"lo":313.59,"hi":317.24,"v":199},{"lo":317.24,"hi":320.88,"v":196},{"lo":320.88,"hi":324.53,"v":189},{"lo":324.53,"hi":328.17,"v":312},
      {"lo":328.17,"hi":331.82,"v":504},{"lo":331.82,"hi":335.46,"v":488},{"lo":335.46,"hi":339.11,"v":719},{"lo":339.11,"hi":342.75,"v":706},
      {"lo":342.75,"hi":346.40,"v":636},{"lo":346.40,"hi":350.04,"v":577},{"lo":350.04,"hi":353.69,"v":430},{"lo":353.69,"hi":357.33,"v":331},
      {"lo":357.33,"hi":360.98,"v":190},{"lo":360.98,"hi":364.62,"v":186},{"lo":364.62,"hi":368.27,"v":55},{"lo":368.27,"hi":371.91,"v":29},
      {"lo":371.91,"hi":375.56,"v":120},{"lo":375.56,"hi":379.20,"v":118},{"lo":379.20,"hi":382.85,"v":139},{"lo":382.85,"hi":386.49,"v":163},
      {"lo":386.49,"hi":390.14,"v":222},{"lo":390.14,"hi":393.78,"v":181},{"lo":393.78,"hi":397.43,"v":126},{"lo":397.43,"hi":401.07,"v":101},
      {"lo":401.07,"hi":404.72,"v":62},{"lo":404.72,"hi":408.36,"v":77},{"lo":408.36,"hi":412.01,"v":100},{"lo":412.01,"hi":415.65,"v":73},
      {"lo":415.65,"hi":419.30,"v":65},{"lo":419.30,"hi":422.94,"v":169},{"lo":422.94,"hi":426.59,"v":157},{"lo":426.59,"hi":430.23,"v":106},
      {"lo":430.23,"hi":433.88,"v":73},{"lo":433.88,"hi":437.52,"v":83},{"lo":437.52,"hi":441.17,"v":91},{"lo":441.17,"hi":444.81,"v":136},
      {"lo":444.81,"hi":448.46,"v":120},{"lo":448.46,"hi":452.10,"v":97},{"lo":452.10,"hi":455.75,"v":74},{"lo":455.75,"hi":459.39,"v":98},
      {"lo":459.39,"hi":463.04,"v":184},{"lo":463.04,"hi":466.68,"v":184},{"lo":466.68,"hi":470.33,"v":130},{"lo":470.33,"hi":473.97,"v":126},
      {"lo":473.97,"hi":477.62,"v":129},{"lo":477.62,"hi":481.26,"v":134},{"lo":481.26,"hi":484.91,"v":142},{"lo":484.91,"hi":488.55,"v":132},
      {"lo":488.55,"hi":492.20,"v":204},{"lo":492.20,"hi":495.84,"v":278},{"lo":495.84,"hi":499.49,"v":146},{"lo":499.49,"hi":503.13,"v":69},
      {"lo":503.13,"hi":506.78,"v":51},{"lo":506.78,"hi":510.42,"v":66},{"lo":510.42,"hi":514.07,"v":54},{"lo":514.07,"hi":517.71,"v":74},
      {"lo":517.71,"hi":521.36,"v":111},{"lo":521.36,"hi":525.00,"v":103},{"lo":525.00,"hi":528.65,"v":50},{"lo":528.65,"hi":532.29,"v":22},
      {"lo":532.29,"hi":535.94,"v":37},{"lo":535.94,"hi":539.58,"v":45},{"lo":539.58,"hi":543.23,"v":21},{"lo":543.23,"hi":546.87,"v":14}
    ],
    "fibRed": [
      {"t":"0 (370.25)","p":370.25},
      {"t":"0.236 (325.91)","p":325.91},
      {"t":"0.382 (298.47)","p":298.47},
      {"t":"0.5 (276.31)","p":276.31},
      {"t":"0.618 (254.14)","p":254.14},
      {"t":"0.786 (222.57)","p":222.57},
      {"t":"1 (182.37)","p":182.37}
    ],
    "fibBlack": [
      {"t":"0 (284.42)","p":284.42},
      {"t":"0.5 (376.37)","p":376.37},
      {"t":"0.786 (428.97)","p":428.97},
      {"t":"1 (468.33)","p":468.33},
      {"t":"1.236 (511.73)","p":511.73},
      {"t":"1.618 (581.99)","p":581.99}
    ],
    "wave": [
      {"d":"2020-03-23","p":182.37,"k":0,"t":""},
      {"d":"2022-01-04","p":370.25,"k":1,"t":"1"},
      {"d":"2022-09-13","p":281.8,"k":2,"t":"2"},
      {"d":"2027-09-13","p":585.0,"k":3,"t":"?3?"}
    ]
  },
  "layer": [
    {
      "data": {"name": "vbp"},
      "mark": {"type": "rect", "color": "#edf0f0", "stroke": "white", "strokeWidth": 1},
      "encoding": {
        "x": {"field": "v", "type": "quantitative", "scale": {"domain": [0, 2156], "reverse": true, "nice": false, "padding": 0}, "axis": null},
        "x2": {"datum": 0},
        "y": {"field": "lo", "type": "quantitative", "scale": {"domain": [145.97, 627.3], "nice": false, "zero": false, "padding": 0},
              "axis": {"orient": "right", "values": [150,175,200,225,250,275,300,325,350,375,400,425,450,475,500,525,550,575], "format": ".2f", "title": null, "zindex": 2}},
        "y2": {"field": "hi"}
      }
    },
    {
      "layer": [
        {
          "data": {"name": "fibRed"},
          "mark": {"type": "rule", "color": "#c62828", "strokeWidth": 1.2},
          "encoding": {
            "x": {"datum": {"year": 2019, "month": 7, "date": 23}, "type": "temporal",
                  "scale": {"domain": [{"year": 2019, "month": 7, "date": 5}, {"year": 2028, "month": 1, "date": 8}], "nice": false, "padding": 0},
                  "axis": {"format": "%b '%y", "tickCount": {"interval": "month", "step": 6}, "title": null}},
            "x2": {"datum": {"year": 2023, "month": 1, "date": 31}},
            "y": {"field": "p", "type": "quantitative", "scale": {"domain": [145.97, 627.3], "nice": false, "zero": false, "padding": 0}, "title": null}
          }
        },
        {
          "data": {"name": "fibRed"},
          "mark": {"type": "text", "align": "right", "baseline": "middle", "dx": -5, "dy": 11, "fontSize": 11, "color": "#c62828"},
          "encoding": {
            "x": {"datum": {"year": 2023, "month": 1, "date": 31}, "type": "temporal", "title": null},
            "y": {"field": "p", "type": "quantitative", "title": null},
            "text": {"field": "t"}
          }
        },
        {
          "data": {"name": "fibBlack"},
          "mark": {"type": "rule", "color": "#1e2b37", "strokeWidth": 1.2},
          "encoding": {
            "x": {"datum": {"year": 2023, "month": 9, "date": 5}, "type": "temporal", "title": null},
            "x2": {"datum": {"year": 2026, "month": 9, "date": 13}},
            "y": {"field": "p", "type": "quantitative", "title": null}
          }
        },
        {
          "data": {"name": "fibBlack"},
          "mark": {"type": "text", "align": "right", "baseline": "middle", "dx": -7, "dy": 11, "fontSize": 11, "color": "#1e2b37"},
          "encoding": {
            "x": {"datum": {"year": 2026, "month": 9, "date": 13}, "type": "temporal", "title": null},
            "y": {"field": "p", "type": "quantitative", "title": null},
            "text": {"field": "t"}
          }
        },
        {
          "data": {"name": "candles"},
          "mark": {"type": "rule", "strokeWidth": 1},
          "encoding": {
            "x": {"field": "d", "type": "temporal", "title": null},
            "y": {"field": "l", "type": "quantitative", "title": null},
            "y2": {"field": "h"},
            "color": {"condition": {"test": "datum.c >= datum.o", "value": "#26a69a"}, "value": "#ef5350"}
          }
        },
        {
          "data": {"name": "candles"},
          "mark": {"type": "bar", "width": 3},
          "encoding": {
            "x": {"field": "d", "type": "temporal", "title": null},
            "y": {"field": "o", "type": "quantitative", "title": null},
            "y2": {"field": "c"},
            "color": {"condition": {"test": "datum.c >= datum.o", "value": "#26a69a"}, "value": "#ef5350"}
          }
        },
        {
          "data": {"name": "wave"},
          "mark": {"type": "line", "color": "#4caf50", "strokeWidth": 2},
          "encoding": {
            "x": {"field": "d", "type": "temporal", "title": null},
            "y": {"field": "p", "type": "quantitative", "title": null},
            "order": {"field": "k"}
          }
        },
        {
          "data": {"name": "wave"},
          "transform": [{"filter": "datum.k == 1 || datum.k == 3"}],
          "mark": {"type": "text", "baseline": "bottom", "dy": -4, "fontSize": 17, "color": "#1a1a1a"},
          "encoding": {
            "x": {"field": "d", "type": "temporal", "title": null},
            "y": {"field": "p", "type": "quantitative", "title": null},
            "text": {"field": "t"}
          }
        },
        {
          "data": {"name": "wave"},
          "transform": [{"filter": "datum.k == 2"}],
          "mark": {"type": "text", "baseline": "top", "dy": 5, "fontSize": 17, "color": "#1a1a1a"},
          "encoding": {
            "x": {"field": "d", "type": "temporal", "title": null},
            "y": {"field": "p", "type": "quantitative", "title": null},
            "text": {"field": "t"}
          }
        },
        {
          "mark": {"type": "rule", "color": "#4b5f86", "strokeWidth": 1.2, "strokeDash": [5, 3]},
          "encoding": {
            "x": {"datum": {"year": 2020, "month": 3, "date": 23}, "type": "temporal", "title": null}
          }
        },
        {
          "data": {"values": [{"t": "⇅ VbP start (manual)", "d": "2020-03-08", "p": 151.3}]},
          "mark": {"type": "text", "angle": 270, "align": "left", "baseline": "middle", "fontSize": 10, "color": "#4b5f86"},
          "encoding": {
            "x": {"field": "d", "type": "temporal", "title": null},
            "y": {"field": "p", "type": "quantitative", "title": null},
            "text": {"field": "t"}
          }
        },
        {
          "data": {"values": [{"t": "∴", "d": "2019-07-21", "p": 612.9}]},
          "mark": {"type": "text", "align": "left", "baseline": "middle", "fontSize": 24, "color": "#3aa39a"},
          "encoding": {
            "x": {"field": "d", "type": "temporal", "title": null},
            "y": {"field": "p", "type": "quantitative", "title": null},
            "text": {"field": "t"}
          }
        },
        {
          "data": {"values": [{"t": "Trend", "d": "2019-08-17", "p": 612.9}]},
          "mark": {"type": "text", "align": "left", "baseline": "middle", "fontSize": 21, "fontWeight": "bold", "color": "#1c2b33"},
          "encoding": {
            "x": {"field": "d", "type": "temporal", "title": null},
            "y": {"field": "p", "type": "quantitative", "title": null},
            "text": {"field": "t"}
          }
        },
        {
          "data": {"values": [{"t": "Spider", "d": "2019-11-21", "p": 612.9}]},
          "mark": {"type": "text", "align": "left", "baseline": "middle", "fontSize": 22, "fontWeight": 300, "color": "#3a4a52"},
          "encoding": {
            "x": {"field": "d", "type": "temporal", "title": null},
            "y": {"field": "p", "type": "quantitative", "title": null},
            "text": {"field": "t"}
          }
        },
        {
          "data": {"values": [{"t": "Aug 14, 2026 8:37PM EDT", "d": "2020-03-28", "p": 612.9}]},
          "mark": {"type": "text", "align": "left", "baseline": "middle", "fontSize": 11, "color": "#1a1a1a"},
          "encoding": {
            "x": {"field": "d", "type": "temporal", "title": null},
            "y": {"field": "p", "type": "quantitative", "title": null},
            "text": {"field": "t"}
          }
        },
        {
          "data": {"values": [{"d": "2019-08-24", "p": 589.5}]},
          "mark": {"type": "point", "shape": "square", "filled": true, "size": 4900, "opacity": 1, "color": "#0d1e6b"},
          "encoding": {
            "x": {"field": "d", "type": "temporal", "title": null},
            "y": {"field": "p", "type": "quantitative", "title": null}
          }
        },
        {
          "data": {"values": [{"t": "───── ⁄ ⁄ ─────", "d": "2019-08-24", "p": 590.4}]},
          "mark": {"type": "text", "align": "center", "baseline": "middle", "fontSize": 6, "color": "white"},
          "encoding": {
            "x": {"field": "d", "type": "temporal", "title": null},
            "y": {"field": "p", "type": "quantitative", "title": null},
            "text": {"field": "t"}
          }
        },
        {
          "data": {"values": [{"t": "· · · · · · · · · · · · ·", "d": "2019-08-24", "p": 587.4}]},
          "mark": {"type": "text", "align": "center", "baseline": "middle", "fontSize": 5, "color": "white"},
          "encoding": {
            "x": {"field": "d", "type": "temporal", "title": null},
            "y": {"field": "p", "type": "quantitative", "title": null},
            "text": {"field": "t"}
          }
        },
        {
          "data": {"values": [{"t": "DIA, Weekly, Candles chart", "d": "2019-07-09", "p": 567.0}]},
          "mark": {"type": "text", "align": "left", "baseline": "middle", "fontSize": 11, "color": "#1a1a1a"},
          "encoding": {
            "x": {"field": "d", "type": "temporal", "title": null},
            "y": {"field": "p", "type": "quantitative", "title": null},
            "text": {"field": "t"}
          }
        },
        {
          "data": {"values": [{"t": "VbP (100, manual), Weekly", "d": "2019-07-09", "p": 556.3}]},
          "mark": {"type": "text", "align": "left", "baseline": "middle", "fontSize": 11, "color": "#8094b0"},
          "encoding": {
            "x": {"field": "d", "type": "temporal", "title": null},
            "y": {"field": "p", "type": "quantitative", "title": null},
            "text": {"field": "t"}
          }
        },
        {
          "data": {"values": [{"p": 536.8}]},
          "mark": {"type": "bar", "size": 18, "cornerRadius": 3, "color": "#ef5350"},
          "encoding": {
            "x": {"datum": {"year": 2027, "month": 11, "date": 11}, "type": "temporal", "title": null},
            "x2": {"datum": {"year": 2028, "month": 1, "date": 20}},
            "y": {"field": "p", "type": "quantitative", "title": null}
          }
        },
        {
          "data": {"values": [{"t": "536.80", "p": 536.8}]},
          "mark": {"type": "text", "align": "center", "baseline": "middle", "fontSize": 11, "color": "white"},
          "encoding": {
            "x": {"datum": {"year": 2027, "month": 12, "date": 16}, "type": "temporal", "title": null},
            "y": {"field": "p", "type": "quantitative", "title": null},
            "text": {"field": "t"}
          }
        },
        {
          "data": {"values": [{"t": "Exchange: EDT", "p": 148.4}]},
          "mark": {"type": "text", "align": "right", "baseline": "middle", "fontSize": 8.5, "color": "#7b8581"},
          "encoding": {
            "x": {"datum": {"year": 2027, "month": 12, "date": 29}, "type": "temporal", "title": null},
            "y": {"field": "p", "type": "quantitative", "title": null},
            "text": {"field": "t"}
          }
        }
      ]
    }
  ],
  "resolve": {"scale": {"x": "independent"}}
}
